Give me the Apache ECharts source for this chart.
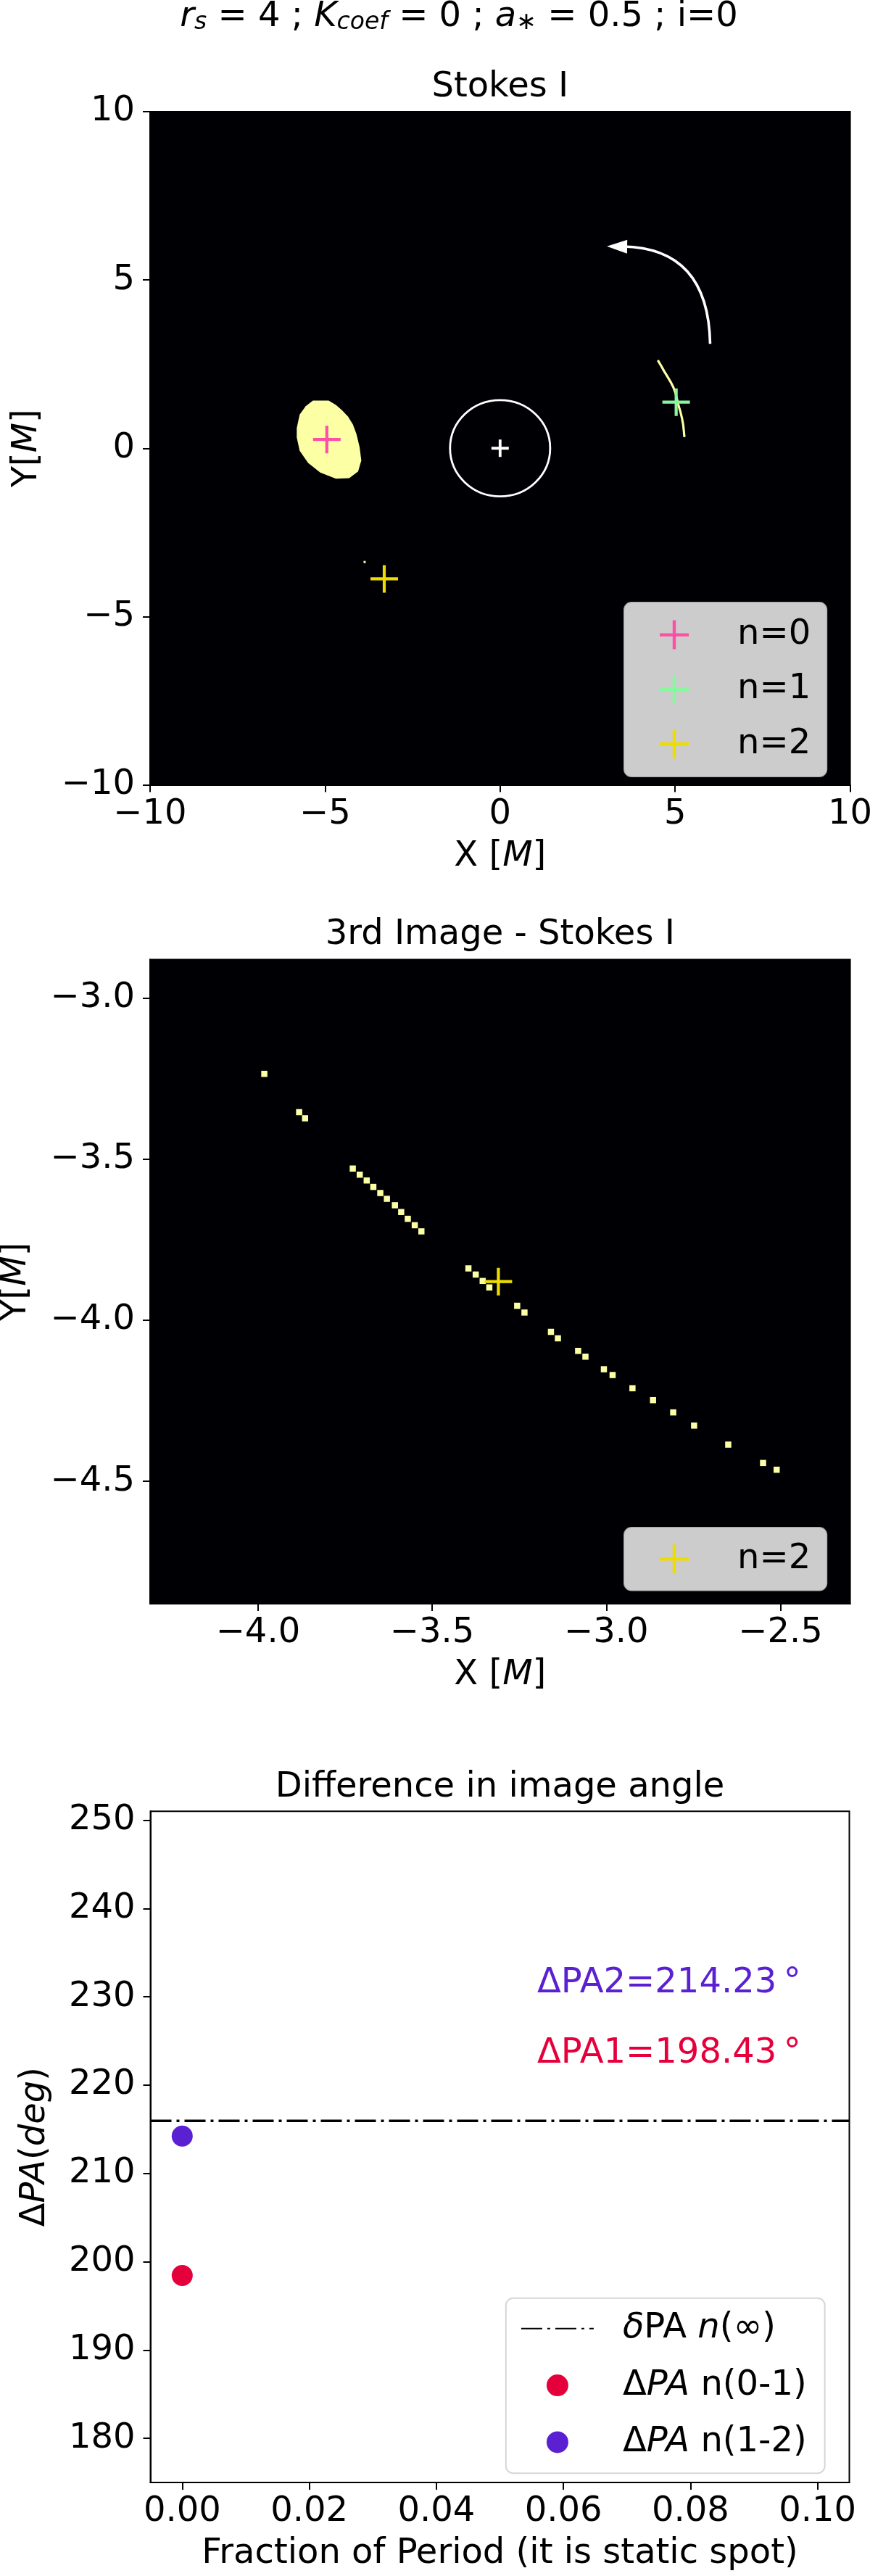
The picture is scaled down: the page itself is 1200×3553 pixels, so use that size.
<!DOCTYPE html>
<html><head><meta charset="utf-8">
<script src="https://cdn.jsdelivr.net/npm/echarts@6.0.0/dist/echarts.min.js"></script>
<style>html,body{margin:0;padding:0;background:#fff}#c{width:1200px;height:3553px}</style>
</head><body><div id="c"></div>
<script>
// ================= DATA =================
// Panel 1 : Stokes I (full field)
const plot1Ticks = [-10, -5, 0, 5, 10];
const n0Cross = [[-4.95, 0.26]];
const n1Cross = [[5.03, 1.37]];
const n2Cross = [[-3.31, -3.88]];
const centerMark = [[0, 0]];
const horizonRadius = [1.43];
const n0Outline = [[-5.347,1.416],[-4.898,1.416],[-4.691,1.287],[-4.518,1.129],[-4.346,0.942],[-4.207,0.713],[-4.104,0.426],[-4.014,0.031],[-3.966,-0.364],[-4.056,-0.687],[-4.311,-0.888],[-4.691,-0.902],[-5.139,-0.723],[-5.485,-0.436],[-5.726,-0.077],[-5.809,0.318],[-5.809,0.605],[-5.726,1.000],[-5.554,1.251]];
const n1Arc = [[4.506,2.615],[4.600,2.450],[4.685,2.292],[4.780,2.130],[4.872,1.969],[4.950,1.810],[5.010,1.646],[5.050,1.470],[5.093,1.287],[5.150,1.090],[5.196,0.892],[5.230,0.700],[5.251,0.497],[5.265,0.332]];
const n2VisibleFull = [[-3.87, -3.38]];
const rotationArrow = [[6.0, 3.1], [5.95, 5.95], [3.05, 6.0]]; // start, control, tip
// Panel 2 : 3rd image zoom
const n2Pixels = [[-3.982,-3.235],[-3.882,-3.354],[-3.865,-3.373],[-3.728,-3.529],[-3.708,-3.548],[-3.688,-3.566],[-3.669,-3.586],[-3.649,-3.605],[-3.630,-3.623],[-3.607,-3.643],[-3.589,-3.664],[-3.570,-3.685],[-3.550,-3.705],[-3.531,-3.724],[-3.396,-3.839],[-3.375,-3.858],[-3.355,-3.878],[-3.336,-3.898],[-3.256,-3.955],[-3.235,-3.976],[-3.159,-4.036],[-3.139,-4.056],[-3.081,-4.095],[-3.060,-4.113],[-3.007,-4.152],[-2.982,-4.170],[-2.925,-4.211],[-2.866,-4.248],[-2.808,-4.286],[-2.748,-4.327],[-2.650,-4.386],[-2.550,-4.443],[-2.511,-4.464]];
const plot2XRange = [-4.31, -2.30];
const plot2YRange = [-4.88, -2.88];
const plot2XTicks = [-4.0, -3.5, -3.0, -2.5];
const plot2YTicks = [-4.5, -4.0, -3.5, -3.0];
// Panel 3 : difference in image angle
const fracPeriod = [0.0];
const dPA1 = [198.43];
const dPA2 = [214.23];
const deltaPAinf = [215.95];
const plot3XRange = [-0.005, 0.105];
const plot3YRange = [175, 251];
const plot3XTicks = [0.00, 0.02, 0.04, 0.06, 0.08, 0.10];
const plot3YTicks = [180, 190, 200, 210, 220, 230, 240, 250];

// ================= STYLE =================
const F = "'DejaVu Sans', sans-serif";
const FS = 48;
const IMG = '#fcffa4', BG = '#000004';
const PINK = '#ff4fa5', GREEN = '#88f7a0', GOLD = '#eedc00';
const RED = '#e5003c', PURPLE = '#5a20d2';
const PLUS = 'path://M0,44.5H100V55.5H0Z M44.5,0H55.5V100H44.5Z';
const PLUS_C = 'path://M0,42H100V58H0Z M42,0H58V100H42Z';
const minus = d => v => (v < 0 ? '\u2212' : '') + Math.abs(v).toFixed(d);
const rt = (extra) => Object.assign({fontSize: FS, fontFamily: F, color: '#000'}, extra || {});
const solid = c => ({color: c, opacity: 1});

function axis(grid, range, ticks, dec, name, nameGap, labelMargin) {
  return {
    type: 'value', gridIndex: grid, min: range[0], max: range[1],
    axisLine: {show: true, onZero: false, lineStyle: {color: '#000', width: 2}},
    axisTick: {show: true, length: 10, lineStyle: {color: '#000', width: 2}, customValues: ticks},
    axisLabel: {show: true, customValues: ticks, formatter: minus(dec), fontSize: FS, fontFamily: F, color: '#000', margin: labelMargin},
    splitLine: {show: false},
    name: name, nameLocation: 'middle', nameGap: nameGap,
    nameTextStyle: {fontSize: FS, fontFamily: F, color: '#000', rich: {i: rt({fontStyle: 'italic'}), u: rt()}}
  };
}

const grids = [
  {left: 207, top: 154, width: 965.6, height: 928.5, show: true, backgroundColor: BG, borderColor: '#000', borderWidth: 2, outerBoundsMode: 'none', containLabel: false},
  {left: 207, top: 1323.4, width: 965.6, height: 888.6, show: true, backgroundColor: BG, borderColor: '#000', borderWidth: 2, outerBoundsMode: 'none', containLabel: false},
  {left: 207.5, top: 2498.3, width: 964, height: 925.7, show: true, backgroundColor: '#fff', borderColor: '#000', borderWidth: 2, outerBoundsMode: 'none', containLabel: false}
];

const xAxes = [
  axis(0, [-10, 10], plot1Ticks, 0, 'X [{i|M}]', 75, 17),
  axis(1, plot2XRange, plot2XTicks, 1, 'X [{i|M}]', 75, 17),
  axis(2, plot3XRange, plot3XTicks, 2, 'Fraction of Period (it is static spot)', 75, 17)
];
const yAxes = [
  axis(0, [-10, 10], plot1Ticks, 0, 'Y[{i|M}]', 145, 21),
  axis(1, plot2YRange, plot2YTicks, 1, 'Y[{i|M}]', 160, 21),
  axis(2, plot3YRange, plot3YTicks, 0, '{u|\u0394}{i|PA}({i|deg})', 135, 21)
];

const noEmph = {disabled: true};
const series = [
  // ---- panel 1 images ----
  {type: 'custom', name: 'n0img', xAxisIndex: 0, yAxisIndex: 0, data: n0Outline, z: 2, clip: true, silent: true,
   renderItem: (p, api) => {
     if (p.dataIndex !== 0) return null;
     return {type: 'polygon', shape: {points: n0Outline.map(q => api.coord(q))}, style: {fill: IMG, stroke: 'none'}};
   }},
  {type: 'line', name: 'n1img', xAxisIndex: 0, yAxisIndex: 0, data: n1Arc, showSymbol: false, symbol: 'none', z: 2,
   lineStyle: {color: IMG, width: 3.2, opacity: 1}, emphasis: noEmph, silent: true},
  {type: 'scatter', name: 'n2img', xAxisIndex: 0, yAxisIndex: 0, data: n2VisibleFull, symbol: 'rect', symbolSize: 3,
   itemStyle: solid(IMG), z: 2, emphasis: noEmph, silent: true},
  {type: 'custom', name: 'horizon', xAxisIndex: 0, yAxisIndex: 0, data: centerMark, z: 3, silent: true,
   renderItem: (p, api) => {
     const c = api.coord(centerMark[0]);
     const s = api.size([horizonRadius[0], horizonRadius[0]]);
     return {type: 'ellipse', shape: {cx: c[0], cy: c[1], rx: s[0], ry: s[1]}, style: {fill: 'none', stroke: '#fff', lineWidth: 2.8}};
   }},
  {type: 'custom', name: 'arrow', xAxisIndex: 0, yAxisIndex: 0, data: [rotationArrow[0]], z: 3, silent: true,
   renderItem: (p, api) => {
     const a = api.coord(rotationArrow[0]), c = api.coord(rotationArrow[1]), t = api.coord(rotationArrow[2]);
     let dx = t[0] - c[0], dy = t[1] - c[1]; const L = Math.hypot(dx, dy); dx /= L; dy /= L;
     const hl = 28, hw = 9.5, bx = t[0] - dx * hl, by = t[1] - dy * hl, nx = -dy, ny = dx;
     return {type: 'group', children: [
       {type: 'bezierCurve', shape: {x1: a[0], y1: a[1], cpx1: c[0], cpy1: c[1], x2: bx + dx * 6, y2: by + dy * 6},
        style: {fill: 'none', stroke: '#fff', lineWidth: 3.6}},
       {type: 'polygon', shape: {points: [t, [bx + nx * hw, by + ny * hw], [bx - nx * hw, by - ny * hw]]}, style: {fill: '#fff'}}
     ]};
   }},
  {type: 'scatter', name: 'centre', xAxisIndex: 0, yAxisIndex: 0, data: centerMark, symbol: PLUS_C, symbolSize: 24,
   itemStyle: solid('#fff'), z: 4, emphasis: noEmph, silent: true},
  {type: 'scatter', name: 'n=0', xAxisIndex: 0, yAxisIndex: 0, data: n0Cross, symbol: PLUS, symbolSize: 38, itemStyle: solid(PINK), z: 5, emphasis: noEmph},
  {type: 'scatter', name: 'n=1', xAxisIndex: 0, yAxisIndex: 0, data: n1Cross, symbol: PLUS, symbolSize: 38, itemStyle: solid(GREEN), z: 5, emphasis: noEmph},
  {type: 'scatter', name: 'n=2', xAxisIndex: 0, yAxisIndex: 0, data: n2Cross, symbol: PLUS, symbolSize: 38, itemStyle: solid(GOLD), z: 5, emphasis: noEmph},
  // ---- panel 2 ----
  {type: 'scatter', name: 'n2pix', xAxisIndex: 1, yAxisIndex: 1, data: n2Pixels, symbol: 'rect', symbolSize: 8.5,
   itemStyle: solid(IMG), z: 2, emphasis: noEmph, silent: true},
  {type: 'scatter', name: 'n=2', xAxisIndex: 1, yAxisIndex: 1, data: n2Cross, symbol: PLUS, symbolSize: 38, itemStyle: solid(GOLD), z: 5, emphasis: noEmph},
  // ---- panel 3 ----
  {type: 'line', name: '\u03b4PA n(\u221e)', xAxisIndex: 2, yAxisIndex: 2,
   data: [[plot3XRange[0], deltaPAinf[0]], [plot3XRange[1], deltaPAinf[0]]],
   symbol: 'none', showSymbol: false, itemStyle: {color: 'rgba(0,0,0,0)', opacity: 0},
   lineStyle: {color: '#000', width: 3.5, opacity: 1, type: [29, 7, 4, 7]}, z: 3, emphasis: noEmph},
  {type: 'scatter', name: '\u0394PA n(0-1)', xAxisIndex: 2, yAxisIndex: 2, data: fracPeriod.map((f, i) => [f, dPA1[i]]),
   symbol: 'circle', symbolSize: 29, itemStyle: solid(RED), z: 4, emphasis: noEmph},
  {type: 'scatter', name: '\u0394PA n(1-2)', xAxisIndex: 2, yAxisIndex: 2, data: fracPeriod.map((f, i) => [f, dPA2[i]]),
   symbol: 'circle', symbolSize: 29, itemStyle: solid(PURPLE), z: 4, emphasis: noEmph}
];

const legBase = {orient: 'vertical', selectedMode: false, backgroundColor: 'rgba(255,255,255,0.8)',
  borderColor: 'rgba(204,204,204,0.8)', borderWidth: 2, borderRadius: 10};
const legendText3 = {
  '\u03b4PA n(\u221e)': '{fi0|\u03b4}{f|PA }{fi|n}{f|(\u221e)}',
  '\u0394PA n(0-1)': '{u0|\u0394}{fi|PA}{f| n(0-1)}',
  '\u0394PA n(1-2)': '{u0|\u0394}{fi|PA}{f| n(1-2)}'
};
const legends = [
  Object.assign({}, legBase, {left: 861, top: 831, itemWidth: 40, itemHeight: 40, itemGap: 27.3, padding: [20.6, 22, 20.8, 49],
    data: [{name: 'n=0', icon: PLUS}, {name: 'n=1', icon: PLUS}, {name: 'n=2', icon: PLUS}],
    formatter: n => '{t|' + n + '}', textStyle: {rich: {t: rt({lineHeight: 44, padding: [0, 0, 0, 62]})}}}),
  Object.assign({}, legBase, {left: 861, top: 2107, itemWidth: 40, itemHeight: 40, itemGap: 20, padding: [19.2, 22, 19.2, 49],
    data: [{name: 'n=2', icon: PLUS}],
    formatter: n => '{t|' + n + '}', textStyle: {rich: {t: rt({lineHeight: 44, padding: [0, 0, 0, 62]})}}}),
  Object.assign({}, legBase, {left: 697.8, top: 3169.7, itemWidth: 100, itemHeight: 30, itemGap: 30.3, padding: [18.1, 25, 18.8, 20.1],
    data: [{name: '\u03b4PA n(\u221e)', itemStyle: {opacity: 0, color: 'rgba(0,0,0,0)', borderWidth: 0}},
           '\u0394PA n(0-1)', '\u0394PA n(1-2)'],
    formatter: n => legendText3[n],
    textStyle: {rich: {
      f: rt({lineHeight: 44}), fi: rt({lineHeight: 44, fontStyle: 'italic'}),
      fi0: rt({lineHeight: 44, fontStyle: 'italic', padding: [0, 0, 0, 35]}),
      u0: rt({lineHeight: 44, padding: [0, 0, 0, 35]})
    }}})
];

const titleRich = {
  i: rt({fontStyle: 'italic', lineHeight: 48}),
  n: rt({lineHeight: 48}),
  sb: rt({fontSize: 33, fontStyle: 'italic', lineHeight: 20, verticalAlign: 'bottom'})
};
const mkTitle = (text, x, y) => ({text: text, left: x, top: y, textAlign: 'center', textVerticalAlign: 'middle', padding: 0,
  textStyle: {fontSize: FS, fontFamily: F, color: '#000', fontWeight: 'normal', rich: titleRich}});

const option = {
  animation: false,
  backgroundColor: '#fff',
  title: [
    mkTitle('{i|r}{sb|s}{n| = 4 ; }{i|K}{sb|coef}{n| = 0 ; }{i|a}{sb|\u2217}{n| = 0.5 ; i=0}', 633, 23.5),
    mkTitle('Stokes I', 689.8, 121),
    mkTitle('3rd Image - Stokes I', 689.8, 1290),
    mkTitle('Difference in image angle', 689.5, 2466)
  ],
  grid: grids, xAxis: xAxes, yAxis: yAxes, legend: legends, series: series,
  graphic: [
    {type: 'text', x: 741, y: 2736, z: 10, style: {text: '\u0394PA2=214.23\u2009\u00b0', fill: PURPLE, fontSize: FS, fontFamily: F, align: 'left', verticalAlign: 'middle'}},
    {type: 'text', x: 741, y: 2833, z: 10, style: {text: '\u0394PA1=198.43\u2009\u00b0', fill: RED, fontSize: FS, fontFamily: F, align: 'left', verticalAlign: 'middle'}}
  ]
};
const chart = echarts.init(document.getElementById('c'), null, {renderer: 'canvas', width: 1200, height: 3553});
chart.setOption(option);
</script></body></html>
